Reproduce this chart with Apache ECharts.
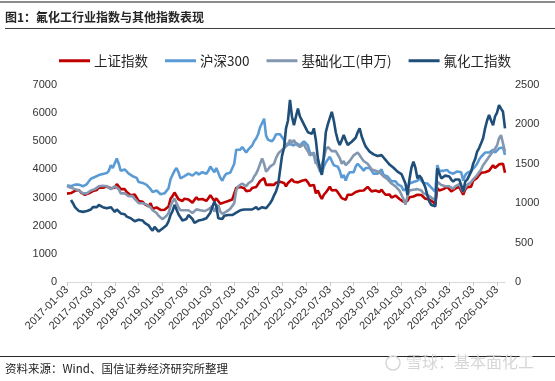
<!DOCTYPE html>
<html><head><meta charset="utf-8">
<script src="https://cdn.jsdelivr.net/npm/echarts@6/dist/echarts.min.js"></script>
<style>html,body{margin:0;padding:0;background:#fff}#c{width:555px;height:381px}</style>
</head><body><div id="c"></div>
<script>
// half-monthly points (3rd and 18th of each month), 2017-01-03 .. 2026-03-03
const startYear = 2017, pointCount = 221;
const tickLabels = ['2017-01-03','2017-07-03','2018-01-03','2018-07-03','2019-01-03','2019-07-03','2020-01-03','2020-07-03','2021-01-03','2021-07-03','2022-01-03','2022-07-03','2023-01-03','2023-07-03','2024-01-03','2024-07-03','2025-01-03','2025-07-03','2026-01-03'];
const seriesNames = ['上证指数','沪深300','基础化工(申万)','氟化工指数'];
const shIndex = [
3140,3160,3160,3200,3240,3250,3270,3180,3140,3100,3110,3150,3190,3230,3250,3270,3360,3340,3350,3380,3390,3420,3330,3290,
3350,3480,3520,3300,3260,3300,3200,3130,3080,3150,3110,3050,2880,2820,2850,2770,2730,2690,2800,2600,2620,2650,2600,2560,
2490,2570,2600,2680,2960,3050,3180,3220,2940,2890,2880,2960,2980,2930,2900,2820,2880,3010,2930,2940,2950,2910,2880,2980,
3080,3090,2880,2970,3000,2780,2750,2830,2860,2880,2880,2930,2980,3340,3350,3380,3370,3330,3230,3300,3250,3340,3400,3380,
3480,3590,3580,3690,3450,3430,3460,3420,3450,3530,3600,3560,3580,3520,3400,3520,3580,3650,3560,3580,3540,3540,3600,3650,
3630,3540,3420,3480,3450,3150,3250,3080,2950,3100,3180,3280,3390,3250,3240,3270,3190,3130,2980,3050,2920,3100,3160,3100,
3100,3200,3270,3240,3280,3250,3290,3380,3330,3220,3210,3250,3200,3200,3280,3180,3100,3120,3110,3000,3020,3070,3030,2950,
2960,2850,2790,2880,3010,3070,3040,3050,3100,3150,3090,3030,2960,2970,2930,2870,2840,2750,3340,3250,3280,3300,3330,3380,
3350,3220,3250,3320,3330,3380,3340,3100,3280,3370,3350,3390,3600,3650,3700,3800,3880,3870,3900,3920,3950,4000,4150,4050,
4100,4180,4150,4200,3880];
const hs300 = [
3440,3400,3400,3430,3460,3480,3460,3430,3400,3360,3480,3580,3670,3700,3730,3760,3800,3760,3840,3850,3870,3950,4150,4050,
4050,4390,4200,3950,4000,4000,3980,3850,3800,3760,3800,3700,3550,3480,3520,3450,3450,3380,3300,3200,3180,3250,3200,3120,
3060,3150,3200,3330,3650,3800,3950,4050,3900,3680,3650,3760,3820,3850,3830,3780,3800,3900,3820,3880,3900,3880,3850,3950,
4100,4150,3900,4050,4000,3700,3600,3750,3850,3850,3880,3950,4200,4700,4750,4700,4800,4700,4600,4700,4700,4850,5000,5100,
5250,5500,5650,5800,5200,5050,5100,5000,5100,5250,5300,5250,5200,5050,4850,4800,4900,4950,4850,4950,4880,4850,4900,5000,
5050,4850,4600,4650,4500,4200,4350,3950,3850,4100,4250,4350,4450,4300,4150,4200,4100,3950,3700,3800,3600,3800,3900,3850,
3900,4100,4200,4150,4050,3950,4050,4100,4050,3950,3850,3900,3850,3850,4000,3800,3750,3750,3700,3580,3600,3580,3480,3450,
3400,3250,3200,3350,3500,3560,3550,3520,3600,3680,3600,3520,3480,3500,3450,3350,3300,3200,4150,3950,3980,3950,3920,3980,
3900,3850,3850,3900,3930,3950,3900,3600,3800,3880,3900,3950,4020,4100,4200,4350,4450,4500,4600,4650,4600,4650,4700,4600,
4650,4750,4750,4780,4520];
const chemIndex = [
3400,3380,3350,3300,3300,3280,3250,3200,3150,3100,3150,3200,3250,3270,3300,3350,3400,3380,3420,3440,3400,3380,3300,3320,
3400,3450,3300,3150,3200,3150,3100,3050,3000,3050,2950,2900,2800,2750,2800,2750,2750,2700,2650,2550,2500,2450,2350,2300,
2230,2280,2350,2450,2700,2850,2970,2900,2650,2550,2500,2550,2600,2550,2530,2450,2480,2580,2520,2550,2500,2520,2500,2580,
2650,2700,2500,2650,2730,2500,2420,2450,2500,2550,2600,2650,2800,3250,3400,3450,3500,3450,3400,3500,3500,3600,3750,3850,
4000,4200,4390,4200,3920,4000,4100,4150,4200,4400,4550,4630,4700,4750,4700,4900,5050,4950,5040,4900,4850,4800,4850,4900,
4750,4650,4500,4550,4600,4300,4250,3950,4000,4400,4700,4800,4750,4650,4700,4650,4600,4400,4200,4300,4150,4200,4300,4350,
4500,4550,4600,4500,4400,4300,4250,4200,4100,4000,4000,3950,3900,3900,3950,3750,3680,3650,3600,3500,3450,3400,3350,3250,
3200,2950,2750,3050,3250,3300,3280,3250,3300,3350,3250,3150,3100,3100,3050,3000,2970,2900,3560,3500,3450,3450,3400,3450,
3400,3330,3320,3400,3450,3480,3450,3200,3350,3450,3480,3550,3650,3700,3800,3900,4000,4150,4250,4300,4450,4550,4630,4700,
4850,5100,5220,5150,4630];
const fluoroIndex = [
null,null,1040,1000,950,930,900,880,890,870,900,890,920,950,960,950,977,960,950,940,935,930,950,920,
890,920,900,870,880,860,830,810,810,790,770,760,790,810,780,750,740,720,680,650,700,680,640,660,
680,700,720,770,850,900,980,920,860,840,780,770,800,850,870,800,750,760,780,790,790,800,810,830,
880,890,1020,960,810,820,800,840,850,850,860,850,850,880,900,910,930,920,900,920,930,920,935,950,
920,940,950,930,935,960,1000,1040,1100,1150,1230,1250,1600,1700,1950,2050,2310,2100,1990,2100,2200,2100,2050,2035,
1950,1900,1910,1880,1950,1800,1570,1450,1358,1600,1900,2000,2080,2160,2050,1900,1800,1740,1800,1865,1800,1740,1740,1780,
1800,1830,1900,1950,1850,1780,1720,1700,1654,1650,1620,1610,1600,1620,1610,1580,1550,1520,1490,1470,1450,1430,1400,1380,
1370,1358,1250,1104,1300,1450,1527,1450,1315,1350,1320,1300,1200,1100,1020,977,990,960,1442,1380,1315,1330,1350,1358,
1340,1300,1273,1300,1320,1300,1230,1146,1273,1300,1350,1400,1500,1560,1654,1700,1760,1823,1950,2050,2120,2050,1990,2100,
2150,2246,2200,2160,1950];
const colors = ['#C00000','#5B9BD5','#8497B0','#1F4E79'];

const dates = [];
for (let j = 0; j < pointCount; j++) {
  const i = Math.floor(j / 2);
  const y = startYear + Math.floor(i / 12), m = i % 12 + 1;
  dates.push(y + '-' + (m < 10 ? '0' + m : m) + (j % 2 ? '-18' : '-03'));
}
const tickSet = new Set(tickLabels);
const FONT = '"Liberation Sans", "Noto Sans CJK SC", sans-serif';
const CJK = '"Noto Sans CJK SC", "Liberation Sans", sans-serif';

const chart = echarts.init(document.getElementById('c'), null, {renderer: 'canvas'});
const data = [shIndex, hs300, chemIndex, fluoroIndex];
chart.setOption({
  animation: false,
  backgroundColor: '#fff',
  grid: {left: 67, right: 50, top: 85, bottom: 99, containLabel: false},
  legend: {
    top: 49, left: 54, itemWidth: 31, itemHeight: 3, itemGap: 17,
    icon: 'rect',
    textStyle: {fontFamily: CJK, fontSize: 13.5, color: '#262626', padding: [0,0,0,-1]},
    data: seriesNames
  },
  xAxis: {
    type: 'category', data: dates, boundaryGap: false,
    axisLine: {lineStyle: {color: '#d9d9d9', width: 1}},
    axisTick: {show: true, length: 4, lineStyle: {color: '#c8c8c8'}, interval: (i, v) => tickSet.has(v)},
    axisLabel: {interval: (i, v) => tickSet.has(v), rotate: 45, margin: 6, fontFamily: FONT, fontSize: 11, color: '#333'}
  },
  yAxis: [
    {type: 'value', min: 0, max: 7000, interval: 1000, splitLine: {show: false},
     axisLine: {show: false}, axisTick: {show: false},
     axisLabel: {margin: 10, fontFamily: FONT, fontSize: 11, color: '#333', formatter: v => String(v)}},
    {type: 'value', min: 0, max: 2500, interval: 500, splitLine: {show: false},
     axisLine: {show: false}, axisTick: {show: false},
     axisLabel: {margin: 10, fontFamily: FONT, fontSize: 11, color: '#333', formatter: v => String(v)}}
  ],
  series: seriesNames.map((n, k) => ({
    name: n, type: 'line', data: data[k], yAxisIndex: k === 3 ? 1 : 0,
    showSymbol: false, symbol: 'none', smooth: false, connectNulls: false,
    lineStyle: {color: colors[k], width: 2.6}, itemStyle: {color: colors[k]}
  })),
  graphic: [
    {type: 'rect', shape: {x: 0, y: 1, width: 555, height: 2}, style: {fill: '#8c8c8c'}},
    {type: 'text', left: 5, top: 11, style: {text: '图1：氟化工行业指数与其他指数表现', font: 'bold 12px "Noto Sans CJK SC", sans-serif', fill: '#262626'}},
    {type: 'rect', shape: {x: 5, y: 28, width: 550, height: 1}, style: {fill: '#404040'}},
    {type: 'rect', shape: {x: 0, y: 356, width: 555, height: 1}, style: {fill: '#262626'}},
    {type: 'text', left: 5, top: 363, style: {text: '资料来源：Wind、国信证券经济研究所整理', font: '11.5px "Noto Sans CJK SC", sans-serif', fill: '#222'}},
    {type: 'circle', shape: {cx: 393, cy: 363, r: 7}, style: {fill: 'none', stroke: '#d6d6d6', lineWidth: 1.5}},
    {type: 'text', left: 406, top: 354, style: {text: '雪球：基本面化工', font: '16px "Noto Sans CJK SC", sans-serif', fill: '#d6d6d6'}}
  ].concat(data.every(a => a.length === pointCount) ? [] :
    [{type: 'text', left: 200, top: 150, style: {text: 'LEN ' + data.map(a => a.length).join(','), font: '14px sans-serif', fill: 'red'}}])
});
</script></body></html>
